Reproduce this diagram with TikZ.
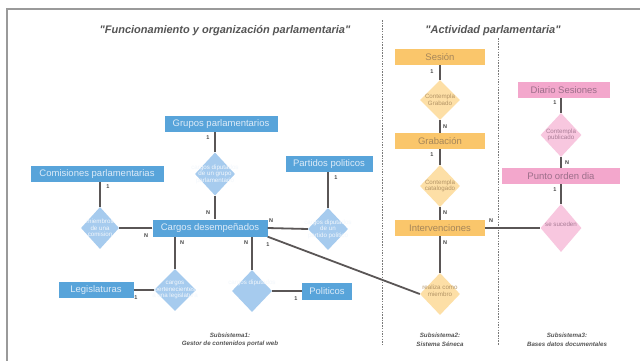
\documentclass[tikz,border=0pt]{standalone}
\usepackage{fontspec}
\setmainfont{Liberation Sans}
\newfontfamily\qfont{Liberation Sans}
\usetikzlibrary{shapes.geometric}
\definecolor{bbox}{HTML}{58A4DA}
\definecolor{btext}{HTML}{DDEBF8}
\definecolor{bdiaf}{HTML}{A6CBEE}
\definecolor{bdtext}{HTML}{F2F7FC}
\definecolor{obox}{HTML}{FAC66B}
\definecolor{otext}{HTML}{A5865A}
\definecolor{odiaf}{HTML}{FDDFA6}
\definecolor{odtext}{HTML}{B39466}
\definecolor{pbox}{HTML}{F3A7CC}
\definecolor{ptext}{HTML}{9C6F8A}
\definecolor{pdiaf}{HTML}{F8C7DF}
\definecolor{pdtext}{HTML}{A97C96}
\definecolor{linec}{HTML}{5A5656}
\definecolor{cardc}{HTML}{444444}
\definecolor{titc}{HTML}{555555}
\definecolor{framec}{HTML}{9A9A9A}
\definecolor{dashc}{HTML}{7A7A7A}
\tikzset{
  ent/.style={rectangle, inner sep=0pt, minimum height=16pt, font=\fontsize{9.5}{10}\selectfont},
  bent/.style={ent, fill=bbox, text=btext},
  oent/.style={ent, fill=obox, text=otext, minimum width=90pt},
  pent/.style={ent, fill=pbox, text=ptext},
  dia/.style={diamond, inner sep=0pt, minimum width=40pt, minimum height=43pt},
  bdia/.style={dia, fill=bdiaf},
  odia/.style={dia, fill=odiaf},
  pdia/.style={dia, fill=pdiaf},
  dtxt/.style={font=\fontsize{6.2}{6.6}\selectfont, align=center, inner sep=0pt},
  bdt/.style={dtxt, text=bdtext},
  odt/.style={dtxt, text=odtext},
  pdt/.style={dtxt, text=pdtext},
  card/.style={font=\bfseries\fontsize{5.5}{6}\selectfont, text=cardc, inner sep=0pt},
  conn/.style={draw=linec, line width=1.8pt},
  ttl/.style={font=\qfont\bfseries\itshape\fontsize{11}{12}\selectfont, text=titc},
  subs/.style={font=\bfseries\itshape\fontsize{6.2}{8.5}\selectfont, text=titc, align=center},
  sep/.style={draw=dashc, line width=0.8pt, dash pattern=on 1.5pt off 1.2pt},
}
\begin{document}
\begin{tikzpicture}[x=1pt,y=-1pt]
\useasboundingbox (0,0) rectangle (640,360);
\fill[white] (0,0) rectangle (640,360);
% frame
\draw[framec, line width=2.2pt] (7,361) -- (7,9) -- (641,9);
% separators
\coordinate (s1a) at (382,20); \coordinate (s1b) at (382,345);
\coordinate (s2a) at (498,38); \coordinate (s2b) at (498,345);
\draw[sep] (s1a) -- (s1b);
\draw[sep] (s2a) -- (s2b);
% titles
\node[ttl] (t1) at (225,31) {"Funcionamiento y organización parlamentaria"};
\node[ttl] (t2) at (493,31) {"Actividad parlamentaria"};
% blue entities
\node[bent, minimum width=113pt] (grupos) at (221,124) {Grupos parlamentarios};
\node[bent, minimum width=133pt] (comis) at (97,174) {Comisiones parlamentarias};
\node[bent, minimum width=87pt] (partidos) at (329,164) {Partidos politicos};
\node[bent, minimum width=115pt, minimum height=17pt] (cargos) at (210,228) {Cargos desempeñados};
\node[bent, minimum width=75pt] (legis) at (96,290) {Legislaturas};
\node[bent, minimum width=50pt, minimum height=17pt] (polit) at (327,291) {Politicos};
% blue relations
\node[bdia] (gd) at (215,174) {};
\node[bdt] (gdt) at (gd) {cargos diputados\\de un grupo\\parlamentario};
\node[bdia, minimum width=38pt, minimum height=42pt] (cd) at (100,228) {};
\node[bdt] (cdt) at (cd) {miembros\\de una\\comision};
\node[bdia, minimum height=42pt] (pd) at (328,229) {};
\node[bdt] (pdt1) at (pd) {cargos diputados\\de un\\partido politico};
\node[bdia, minimum width=42pt, minimum height=42pt] (ld) at (175,290) {};
\node[bdt] (ldt) at (ld) {cargos\\pertenecientes\\a una legislatura};
\node[bdia, minimum height=42pt] (pold) at (252,291) {};
\node[bdt] (poldt) at (252,283) {cargos diputados};
% orange entities
\node[oent] (sesion) at (440,57) {Sesión};
\node[oent] (grab) at (440,141) {Grabación};
\node[oent] (interv) at (440,228) {Intervenciones};
\node[odia, minimum height=40pt] (sd1) at (440,100) {};
\node[odt] (sd1t) at (sd1) {Contempla\\Grabado};
\node[odia, minimum height=42pt] (sd2) at (440,186) {};
\node[odt] (sd2t) at (sd2) {Contempla\\catalogado};
\node[odia, minimum height=42pt] (rd) at (440,294) {};
\node[odt] (rdt) at (440,291) {realiza como\\miembro};
% pink entities
\node[pent, minimum width=92pt] (diario) at (564,90) {Diario Sesiones};
\node[pent, minimum width=118pt] (punto) at (561,176) {Punto orden dia};
\node[pdia, minimum width=41pt, minimum height=44pt] (pd1) at (561,135) {};
\node[pdt] (pd1t) at (pd1) {Contempla\\publicado};
\node[pdia, minimum width=41pt, minimum height=48pt] (pd2) at (561,228) {};
\node[pdt] (pd2t) at (561,224) {se suceden};
% connectors
\draw[conn] (gd.north) -- (gd.north |- grupos.south);
\draw[conn] (gd.south) -- (gd.south |- cargos.north);
\draw[conn] (cd.north) -- (cd.north |- comis.south);
\draw[conn] (cargos.west) -- (cd.east);
\draw[conn] (pd.north) -- (pd.north |- partidos.south);
\draw[conn] (cargos.east) -- (pd.west);
\draw[conn] (ld.north) -- (ld.north |- cargos.south);
\draw[conn] (legis.east) -- (ld.west);
\draw[conn] (pold.north) -- (pold.north |- cargos.south);
\draw[conn] (pold.east) -- (polit.west);
\draw[conn] (cargos.south east) -- (rd.west);
\draw[conn] (sesion.south) -- (sd1.north);
\draw[conn] (sd1.south) -- (grab.north);
\draw[conn] (grab.south) -- (sd2.north);
\draw[conn] (sd2.south) -- (interv.north);
\draw[conn] (interv.south) -- (rd.north);
\draw[conn] (interv.east) -- (pd2.west);
\draw[conn] (pd1.north) -- (pd1.north |- diario.south);
\draw[conn] (pd1.south) -- (pd1.south |- punto.north);
\draw[conn] (pd2.north) -- (pd2.north |- punto.south);
% cardinalities
\node[card] (c1) at (208,138) {1};
\node[card] (c2) at (208,213) {N};
\node[card] (c3) at (108,187) {1};
\node[card] (c4) at (146,236) {N};
\node[card] (c5) at (336,178) {1};
\node[card] (c6) at (271,221) {N};
\node[card] (c7) at (182,243) {N};
\node[card] (c8) at (136,298) {1};
\node[card] (c9) at (246,243) {N};
\node[card] (c10) at (296,299) {1};
\node[card] (c11) at (268,245) {1};
\node[card] (c12) at (432,72) {1};
\node[card] (c13) at (445,127) {N};
\node[card] (c14) at (432,155) {1};
\node[card] (c15) at (445,213) {N};
\node[card] (c16) at (445,243) {N};
\node[card] (c17) at (491,221) {N};
\node[card] (c18) at (555,103) {1};
\node[card] (c19) at (567,163) {N};
\node[card] (c20) at (555,190) {1};
% subsystem captions
\node[subs] (sub1) at (230,340) {Subsistema1:\\Gestor de contenidos portal web};
\node[subs] (sub2) at (440,340) {Subsistema2:\\Sistema Séneca};
\node[subs] (sub3) at (567,340) {Subsistema3:\\Bases datos documentales};
\end{tikzpicture}
\end{document}
